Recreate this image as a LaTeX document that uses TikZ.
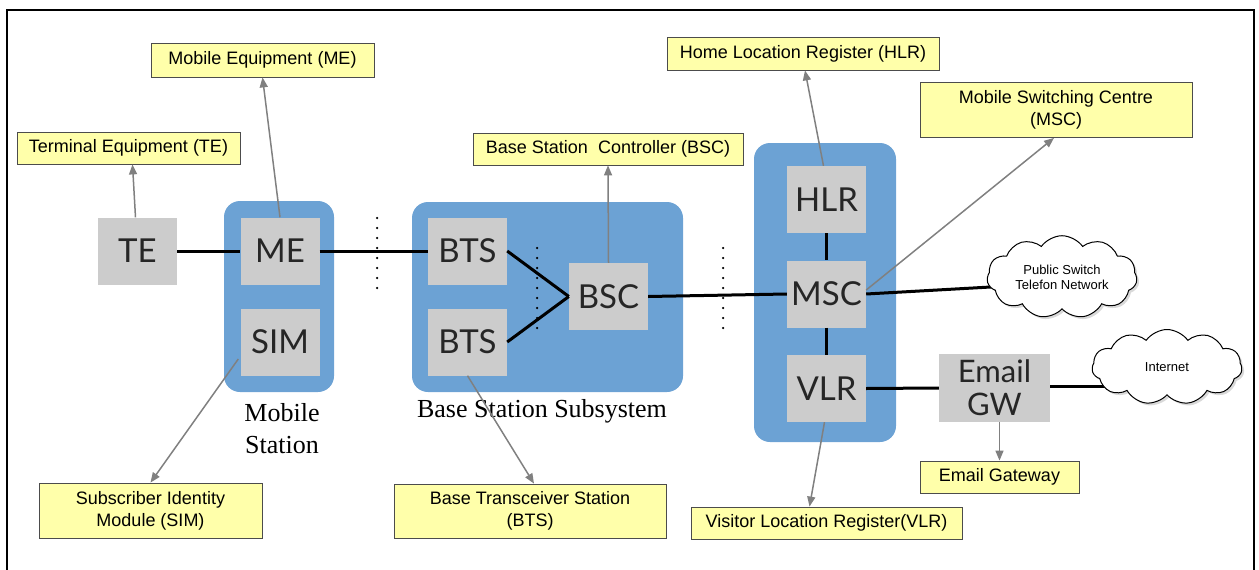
\documentclass[tikz,border=0pt]{standalone}
\usepackage{fontspec}
\setmainfont{Liberation Serif}
\setsansfont{Liberation Sans}
\newfontfamily\gillfont{Lato}
\usetikzlibrary{shapes.symbols,arrows.meta,shadows}

\definecolor{boxblue}{RGB}{108,162,212}
\definecolor{boxgray}{RGB}{204,204,204}
\definecolor{lblyellow}{RGB}{255,255,170}
\definecolor{arrowgray}{RGB}{128,128,128}

\tikzset{
 group/.style={fill=boxblue, rounded corners=16pt, inner sep=0pt},
 unit/.style={fill=boxgray, minimum width=79pt, minimum height=67pt, inner sep=0pt,
   font=\gillfont\fontsize{33}{34}\selectfont, text=black!85, align=center},
 lbl/.style={fill=lblyellow, draw=black!70, line width=0.8pt, inner sep=0pt,
   font=\sffamily\fontsize{18}{22}\selectfont, align=center},
 link/.style={line width=3pt},
 ptr/.style={draw=arrowgray, line width=1.5pt, -{Triangle[length=10pt,width=8pt]}},
 dots/.style={line width=2.5pt, line cap=round, dash pattern=on 0pt off 10pt},
 netcloud/.style={cloud, cloud puffs=11, cloud puff arc=110, aspect=2, draw, fill=white,
   line width=1pt, inner sep=0pt, minimum width=150pt, minimum height=75pt,
   font=\sffamily\fontsize{13}{15}\selectfont, align=center,
   drop shadow={opacity=0.3}},
 grouptitle/.style={font=\rmfamily\fontsize{26}{32}\selectfont, align=center}
}

\begin{document}
\begin{tikzpicture}[x=1pt,y=-1pt]
\useasboundingbox (0,0) rectangle (1259,570);
\draw[line width=2pt] (7,571) -- (7,10) -- (1254,10) -- (1254,571);

% groups
\node[group, minimum width=110pt, minimum height=191pt] (ms) at (279,296.5) {};
\node[group, minimum width=271pt, minimum height=190pt] (bss) at (547.5,297) {};
\node[group, minimum width=142pt, minimum height=299pt] (core) at (825,292.5) {};

% units
\node[unit] (te) at (137.5,251) {TE};
\node[unit] (me) at (280,251) {ME};
\node[unit] (sim) at (280,342) {SIM};
\node[unit] (bts1) at (467.5,251) {BTS};
\node[unit] (bts2) at (467.5,342) {BTS};
\node[unit] (bsc) at (608.5,296.5) {BSC};
\node[unit] (hlr) at (826.5,199.5) {HLR};
\node[unit] (msc) at (826.5,294) {MSC};
\node[unit] (vlr) at (826.5,388.5) {VLR};
\node[unit, minimum width=111pt, minimum height=68pt, font=\gillfont\fontsize{31}{33}\selectfont] (email) at (994.5,388) {Email\\GW};

% cloud positions
\coordinate (pstnc) at (1062,277);
\coordinate (inetc) at (1167,367);

% group titles
\node[grouptitle] (mstitle) at (282,429) {Mobile\\Station};
\node[grouptitle] (bsstitle) at (542,411) {Base Station Subsystem};

% dotted separators
\coordinate (d1a) at (377,218); \coordinate (d1b) at (377,298);
\coordinate (d2a) at (537,248); \coordinate (d2b) at (537,330);
\coordinate (d3a) at (723,248); \coordinate (d3b) at (723,330);
\draw[dots] (d1a) -- (d1b);
\draw[dots] (d2a) -- (d2b);
\draw[dots] (d3a) -- (d3b);

% links
\draw[link] (te.east) -- (me.west);
\draw[link] (me.east) -- (bts1.west);
\draw[link] (bts1.east) -- (bsc.west);
\draw[link] (bts2.east) -- (bsc.west);
\draw[link] (bsc.east) -- (msc.west);
\draw[link] (hlr.south) -- (msc.north);
\draw[link] (msc.south) -- (vlr.north);
\draw[link] (msc.east) -- ([yshift=-6pt]pstnc);
\draw[link] (vlr.east) -- (email.west);
\draw[link] ([yshift=2pt]email.east) -- ([yshift=2pt]email.east -| inetc);

% clouds (drawn over the ends of their links)
\node[netcloud] (pstn) at (pstnc) {Public Switch\\Telefon Network};
\node[netcloud] (inet) at (inetc) {Internet};

% labels
\node[lbl, minimum width=223pt, minimum height=32pt] (lte) at (128.5,148) {Terminal Equipment (TE)};
\node[lbl, minimum width=223pt, minimum height=34pt] (lme) at (262.5,60) {Mobile Equipment (ME)};
\node[lbl, minimum width=223pt, minimum height=55pt] (lsim) at (150.5,510.5) {Subscriber Identity\\Module (SIM)};
\node[lbl, minimum width=270pt, minimum height=32pt] (lbsc) at (608,149) {Base Station\ \ Controller (BSC)};
\node[lbl, minimum width=272pt, minimum height=54pt] (lbts) at (530,511) {Base Transceiver Station\\(BTS)};
\node[lbl, minimum width=272pt, minimum height=33pt] (lhlr) at (803,53.5) {Home Location Register (HLR)};
\node[lbl, minimum width=272pt, minimum height=55pt] (lmsc) at (1056,110) {Mobile Switching Centre\\(MSC)};
\node[lbl, minimum width=271pt, minimum height=32pt] (lvlr) at (826.5,523) {Visitor Location Register(VLR)};
\node[lbl, minimum width=159pt, minimum height=32pt] (lemail) at (999.5,477) {Email Gateway};

% pointers
\draw[ptr] ([xshift=-2pt]te.north) -- ([xshift=4pt]lte.south);
\draw[ptr] (me.north) -- (lme.south);
\draw[ptr] ([yshift=-17pt,xshift=-2pt]sim.west) -- (lsim.north);
\draw[ptr] (bsc.north) -- (lbsc.south);
\draw[ptr] (bts2.south) -- ([xshift=4pt]lbts.north);
\draw[ptr] ([xshift=-3pt]hlr.north) -- ([xshift=2pt]lhlr.south);
\draw[ptr] ([yshift=4pt]msc.east) -- ([xshift=-2pt]lmsc.south);
\draw[ptr] ([xshift=-2pt]vlr.south) -- ([xshift=-17pt]lvlr.north);
\draw[ptr] ([xshift=5pt]email.south) -- (lemail.north);
\end{tikzpicture}
\end{document}
